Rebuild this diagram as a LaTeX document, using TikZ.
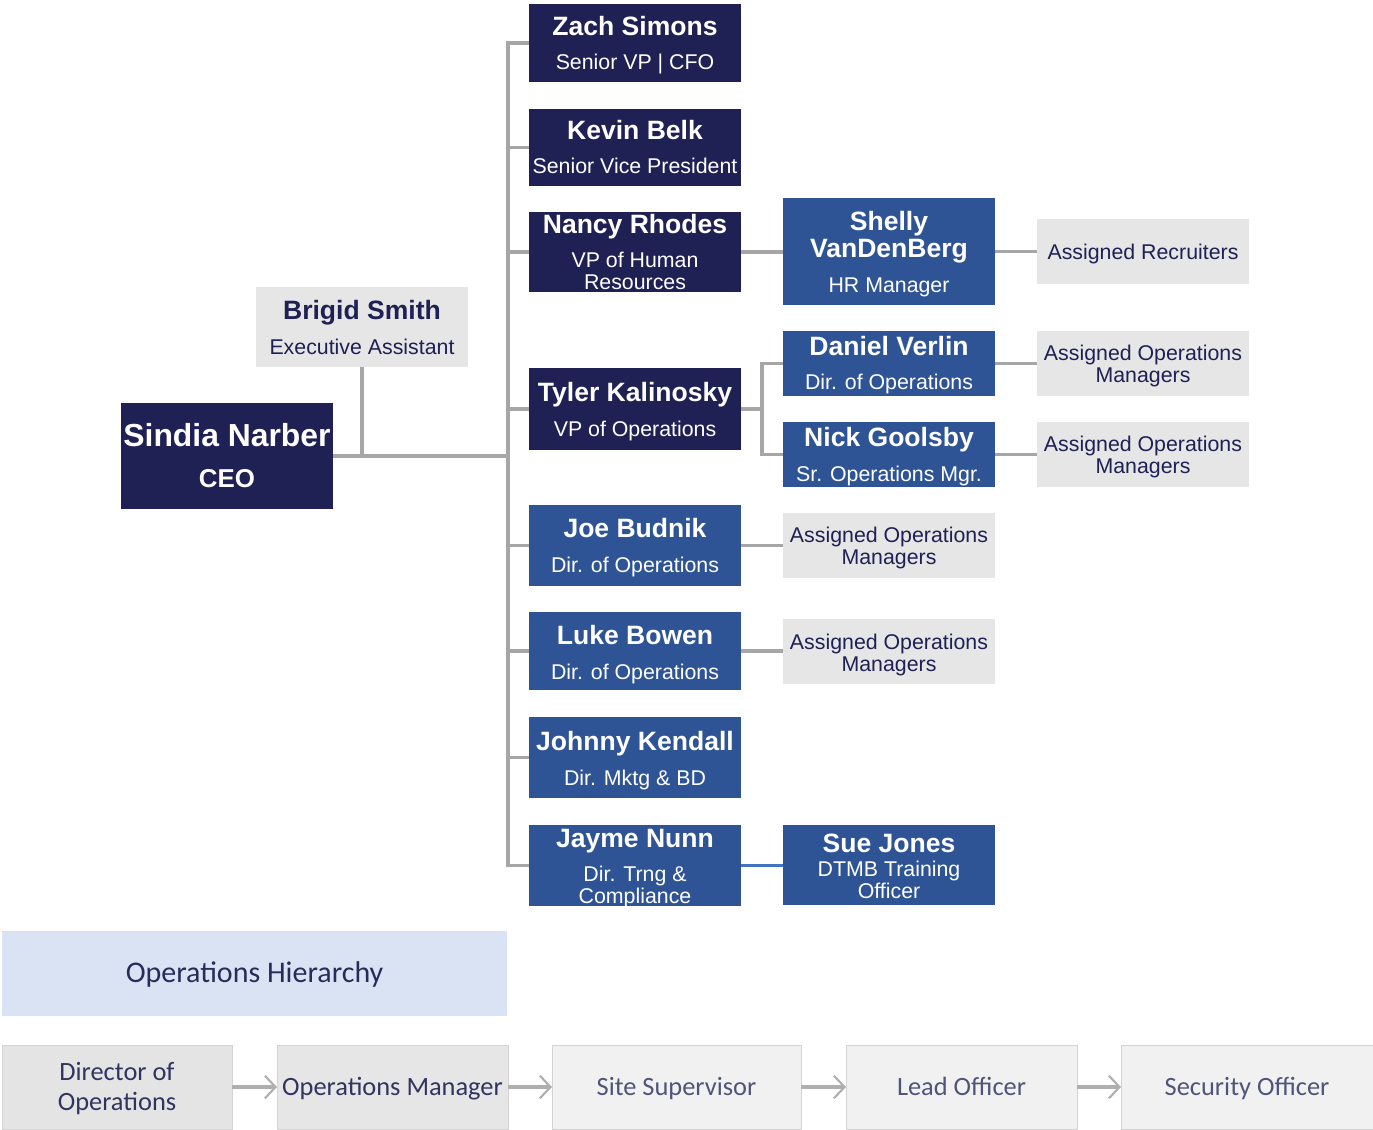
\documentclass[tikz,border=0pt]{standalone}
\usepackage{fontspec}
\setmainfont{Liberation Sans}
\newfontfamily\calfont{Carlito}
\usetikzlibrary{arrows.meta,fit}
\definecolor{navy}{RGB}{31,32,84}
\definecolor{blu}{RGB}{47,84,150}
\definecolor{lgray}{RGB}{230,230,230}
\definecolor{lgray2}{RGB}{241,241,241}
\definecolor{lgray1}{RGB}{228,228,228}
\definecolor{lnc}{RGB}{166,166,166}
\definecolor{suel}{RGB}{68,114,196}
\definecolor{ohbox}{RGB}{218,227,243}
\definecolor{ohtxt}{RGB}{40,44,90}
\definecolor{bt1}{RGB}{50,52,96}
\definecolor{bt2}{RGB}{80,84,120}
\definecolor{bbord}{RGB}{212,212,212}
\begin{document}
\begin{tikzpicture}[x=0.75pt,y=-0.75pt,
  bx/.style={inner sep=0pt, outer sep=0pt, draw=none},
  nv/.style={bx, fill=navy},
  bl/.style={bx, fill=blu},
  gr/.style={bx, fill=lgray},
  nm/.style={anchor=base, inner sep=0pt, font=\fontsize{19.9}{22}\selectfont\bfseries, text=white},
  tl/.style={anchor=base, inner sep=0pt, font=\fontsize{16}{18}\selectfont, text=white},
  conn/.style={draw=lnc, line width=2.3pt},
  ob/.style={bx, draw=bbord, line width=0.6pt},
  bt/.style={anchor=base, inner sep=0pt, font=\calfont\fontsize{19.8}{22}\selectfont},
  arr/.style={draw=lnc!90, line width=3.6pt, -{Straight Barb[length=8pt,width=17pt,line width=1.6pt]}}
]
\useasboundingbox (0,0) rectangle (1373,1129);

% ---------- boxes ----------
\node[nv, fit={(529,4) (741,82)}] (zach) {};
\node[nv, fit={(529,109) (741,186)}] (kevin) {};
\node[nv, fit={(529,212) (741,292)}] (nancy) {};
\node[nv, fit={(529,368) (741,450)}] (tyler) {};
\node[bl, fit={(529,505) (741,586)}] (joe) {};
\node[bl, fit={(529,612) (741,690)}] (luke) {};
\node[bl, fit={(529,717) (741,798)}] (johnny) {};
\node[bl, fit={(529,825) (741,906)}] (jayme) {};
\node[nv, fit={(121,403) (333,509)}] (ceo) {};
\node[gr, fit={(256,287) (468,367)}] (brigid) {};
\node[bl, fit={(783,198) (995,305)}] (shelly) {};
\node[bl, fit={(783,331) (995,396)}] (daniel) {};
\node[bl, fit={(783,422) (995,487)}] (nick) {};
\node[gr, fit={(1037,219) (1249,284)}] (recr) {};
\node[gr, fit={(1037,331) (1249,396)}] (aomd) {};
\node[gr, fit={(1037,422) (1249,487)}] (aomn) {};
\node[gr, fit={(783,513) (995,578)}] (aomj) {};
\node[gr, fit={(783,619) (995,684)}] (aoml) {};
\node[bl, fit={(783,825) (995,905)}] (sue) {};

% ---------- connectors ----------
\coordinate (tx) at (508,0);
\coordinate (fx) at (762,0);
\draw[conn] (zach.west) -| (tx |- jayme.west) -- (jayme.west);
\draw[conn] (kevin.west) -- (tx |- kevin.west);
\draw[conn] (nancy.west) -- (tx |- nancy.west);
\draw[conn] (tyler.west) -- (tx |- tyler.west);
\draw[conn] (joe.west) -- (tx |- joe.west);
\draw[conn] (luke.west) -- (tx |- luke.west);
\draw[conn] (johnny.west) -- (tx |- johnny.west);
\draw[conn] (ceo.east) -- (tx |- ceo.east);
\draw[conn] (brigid.south) -- (brigid.south |- ceo.east);
\draw[conn] (nancy.east) -- (nancy.east -| shelly.west);
\draw[conn] (shelly.east) -- (shelly.east -| recr.west);
\draw[conn] (tyler.east) -- (fx |- tyler.east);
\draw[conn] (daniel.west) -| (fx |- nick.west) -- (nick.west);
\draw[conn] (daniel.east) -- (aomd.west);
\draw[conn] (nick.east) -- (aomn.west);
\draw[conn] (joe.east) -- (joe.east -| aomj.west);
\draw[conn] (luke.east) -- (luke.east -| aoml.west);
\draw[draw=suel, line width=2.3pt] (jayme.east) -- (jayme.east -| sue.west);

% ---------- texts ----------
\node[nm] (t1) at (635,35) {Zach Simons};
\node[tl] (t2) at (635,69) {Senior VP | CFO};
\node[nm] (t3) at (635,139) {Kevin Belk};
\node[tl] (t4) at (635,173) {Senior Vice President};
\node[nm] (t5) at (635,233) {Nancy Rhodes};
\node[tl] (t6) at (635,267) {VP of Human};
\node[tl] (t7) at (635,289) {Resources};
\node[nm] (t8) at (635,401) {Tyler Kalinosky};
\node[tl] (t9) at (635,436) {VP of Operations};
\node[nm] (t10) at (635,537) {Joe Budnik};
\node[tl] (t11) at (635,572) {Dir. of Operations};
\node[nm] (t12) at (635,644) {Luke Bowen};
\node[tl] (t13) at (635,679) {Dir. of Operations};
\node[nm] (t14) at (635,750) {Johnny Kendall};
\node[tl] (t15) at (635,785) {Dir. Mktg \& BD};
\node[nm] (t16) at (635,847) {Jayme Nunn};
\node[tl] (t17) at (635,881) {Dir. Trng \&};
\node[tl] (t18) at (635,903) {Compliance};
\node[nm, font=\fontsize{23.9}{26}\selectfont\bfseries] (t19) at (227,446) {Sindia Narber};
\node[nm, font=\fontsize{19.4}{22}\selectfont\bfseries] (t20) at (227,487) {CEO};
\node[nm, text=navy] (t21) at (362,319) {Brigid Smith};
\node[tl, text=navy] (t22) at (362,354) {Executive Assistant};
\node[nm] (t23) at (889,230) {Shelly};
\node[nm] (t24) at (889,257) {VanDenBerg};
\node[tl] (t25) at (889,292) {HR Manager};
\node[nm] (t26) at (889,355) {Daniel Verlin};
\node[tl] (t27) at (889,389) {Dir. of Operations};
\node[nm] (t28) at (889,446) {Nick Goolsby};
\node[tl] (t29) at (889,481) {Sr. Operations Mgr.};
\node[tl, text=navy] (t30) at (1143,259) {Assigned Recruiters};
\node[tl, text=navy] (t31) at (1143,360) {Assigned Operations};
\node[tl, text=navy] (t32) at (1143,382) {Managers};
\node[tl, text=navy] (t33) at (1143,451) {Assigned Operations};
\node[tl, text=navy] (t34) at (1143,473) {Managers};
\node[tl, text=navy] (t35) at (889,542) {Assigned Operations};
\node[tl, text=navy] (t36) at (889,564) {Managers};
\node[tl, text=navy] (t37) at (889,649) {Assigned Operations};
\node[tl, text=navy] (t38) at (889,671) {Managers};
\node[nm] (t39) at (889,852) {Sue Jones};
\node[tl] (t40) at (889,876) {DTMB Training};
\node[tl] (t41) at (889,898) {Officer};

% ---------- operations hierarchy ----------
\node[bx, fill=ohbox, fit={(2,931) (507,1016)}] (oh) {};
\node[bt, text=ohtxt, font=\calfont\fontsize{22.5}{24}\selectfont] (oht) at (254.5,982) {Operations Hierarchy};
\node[ob, fill=lgray1, fit={(2,1045) (232,1129)}] (b1) {};
\node[ob, fill=lgray, fit={(277,1045) (508,1129)}] (b2) {};
\node[ob, fill=lgray2, fit={(552,1045) (801,1129)}] (b3) {};
\node[ob, fill=lgray2, fit={(846,1045) (1077,1129)}] (b4) {};
\node[ob, fill=lgray2, fit={(1121,1045) (1373,1129)}] (b5) {};
\draw[arr] (b1.east) -- (b2.west);
\draw[arr] (b2.east) -- (b3.west);
\draw[arr] (b3.east) -- (b4.west);
\draw[arr] (b4.east) -- (b5.west);
\node[bt, text=bt1] (bt1a) at (117,1080) {Director of};
\node[bt, text=bt1] (bt1b) at (117,1110) {Operations};
\node[bt, text=bt1] (bt2) at (392.5,1095) {Operations Manager};
\node[bt, text=bt2] (bt3) at (676.5,1095) {Site Supervisor};
\node[bt, text=bt2] (bt4) at (961.5,1095) {Lead Officer};
\node[bt, text=bt2] (bt5) at (1247,1095) {Security Officer};
\end{tikzpicture}
\end{document}
